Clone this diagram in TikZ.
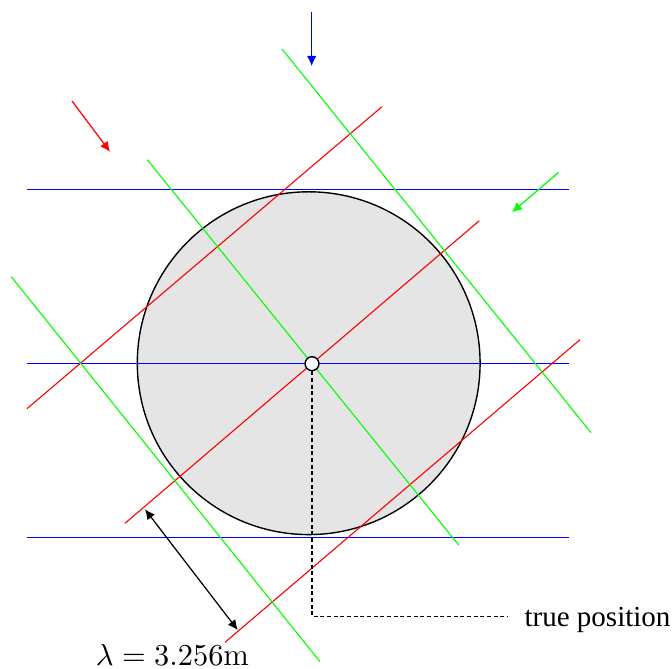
\documentclass[tikz,border=0pt]{standalone}
\usepackage{fontspec}
\newfontfamily\serifrm{Liberation Serif}
\usetikzlibrary{arrows.meta}

\begin{document}
\begin{tikzpicture}[x=0.36pt,y=-0.36pt,line width=0.4pt,
  >={Latex[length=3.6pt,width=3.4pt]},
  front/.style={line width=0.4pt},
  incoming/.style={->,line width=0.45pt}]
\useasboundingbox (0,0) rectangle (672,669);
% ---------- receiver region ----------
\draw[fill=black!10,line width=0.5pt] (308.7,363.2) circle[radius=171.4];
% ---------- wavefronts ----------
% blue (from above)
\foreach \y in {189.5,363.5,537.5}
  \draw[front,draw=blue,line width=0.5pt] (27,\y) -- (569,\y);
% red (from upper left)
\draw[front,draw=red] (27,408.7) -- (382,106.7);
\draw[front,draw=red] (125,523.3) -- (479.3,220.7);
\draw[front,draw=red] (225,642.3) -- (580,339.7);
% green (from upper right)
\draw[front,draw=green] (282,49) -- (591,432.7);
\draw[front,draw=green] (147.3,159.7) -- (458.7,545);
\draw[front,draw=green] (11.3,276.7) -- (320,661.7);
% ---------- directions of arrival ----------
\draw[incoming,color=blue] (311.7,12.3) -- (311.7,66);
\draw[incoming,color=red] (72,101) -- (110,151.7);
\draw[incoming,color=green] (558.7,172.3) -- (512,212.3);
% ---------- true position ----------
\node[circle,draw,fill=white,minimum size=5pt,inner sep=0pt,line width=0.5pt]
  (truepos) at (312,363.7) {};
\coordinate (dashend) at (507.7,616.3);
\draw[dash pattern=on 1.4pt off 1pt] (truepos) |- (dashend);
\node[anchor=base west,inner sep=0pt,font=\serifrm\fontsize{10.45}{12}\selectfont]
  (poslabel) at (524,627) {true position};
% ---------- wavelength ----------
\coordinate (lamA) at (145,509.3);
\coordinate (lamB) at (237.7,630);
\draw[<->,line width=0.45pt] (lamA) -- (lamB);
\node[anchor=base,inner sep=0pt,font=\fontsize{11.3}{13}\selectfont]
  (lamlabel) at (172.5,666) {$\lambda=3.256\mathrm{m}$};
\end{tikzpicture}
\end{document}
